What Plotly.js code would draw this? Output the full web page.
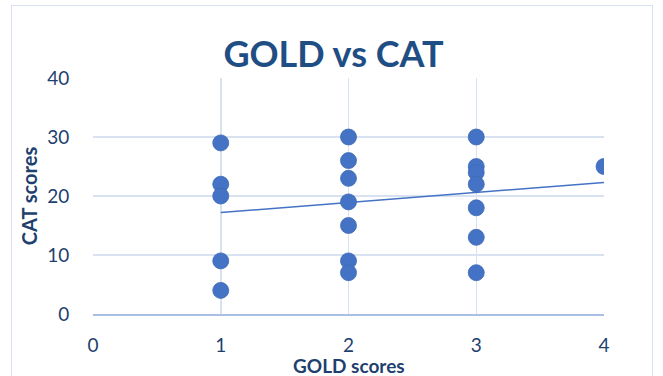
<!DOCTYPE html>
<html>
<head>
<meta charset="utf-8">
<script src="https://cdn.plot.ly/plotly-3.0.1.min.js"></script>
<style>
  html, body { margin: 0; padding: 0; background: #fff; }
  #wrap { position: relative; width: 663px; height: 376px; overflow: hidden; }
  #chart { width: 663px; height: 376px; }
  #frame { position: absolute; left: 11px; top: 5px; width: 642px; height: 400px;
           border: 1px solid #d6e0ef; box-sizing: border-box; pointer-events: none; }
</style>
</head>
<body>
<div id="wrap">
  <div id="chart"></div>
  <div id="frame"></div>
</div>
<script>
// GOLD score per respondent and the matching CAT score
const goldScores = [1, 1, 1, 1, 1,
                    2, 2, 2, 2, 2, 2, 2,
                    3, 3, 3, 3, 3, 3, 3,
                    4];
const catScores  = [29, 22, 20, 9, 4,
                    30, 26, 23, 19, 15, 9, 7,
                    30, 25, 24, 22, 18, 13, 7,
                    25];

// Linear trendline end points
const trendX = [1, 4];
const trendY = [17.2, 22.3];

const xTicks = [0, 1, 2, 3, 4];
const yTicks = [0, 10, 20, 30, 40];

const navy = '#1f3f6e';
const grid = '#d9e2f1';
const clear = 'rgba(0,0,0,0)';

const traces = [
  {
    x: trendX, y: trendY, type: 'scatter', mode: 'lines',
    line: { color: '#4472c4', width: 1.5 }, hoverinfo: 'skip', showlegend: false
  },
  {
    x: goldScores, y: catScores, type: 'scatter', mode: 'markers',
    marker: { color: '#4472c4', size: 16, line: { color: '#3d69b5', width: 0.8 } },
    showlegend: false
  }
];

const layout = {
  width: 663, height: 376,
  margin: { l: 93, r: 59, t: 78, b: 62 },
  paper_bgcolor: '#ffffff', plot_bgcolor: '#ffffff',
  font: { family: 'Lato, "Open Sans", sans-serif', color: navy },
  title: {
    text: '<b>GOLD vs CAT</b>',
    font: { size: 36, color: '#1f4e85', family: 'Lato, "Open Sans", sans-serif' },
    x: 0.503, xanchor: 'center', y: 0.856, yanchor: 'middle'
  },
  xaxis: {
    range: [0, 4], tickvals: xTicks, ticktext: xTicks.map(String),
    showgrid: true, gridcolor: grid, gridwidth: 1.5,
    zeroline: false, showline: true, linecolor: '#a9bfe3', linewidth: 2,
    ticks: 'outside', ticklen: 13, tickcolor: clear,
    tickfont: { size: 19, color: navy },
    automargin: false
  },
  yaxis: {
    range: [0, 40], tickvals: yTicks, ticktext: yTicks.map(String),
    showgrid: true, gridcolor: grid, gridwidth: 1.5,
    zeroline: false, showline: false,
    ticks: 'outside', ticklen: 19, tickcolor: clear,
    tickfont: { size: 19, color: navy },
    automargin: false,
    title: { text: '<b>CAT scores</b>', font: { size: 20, color: navy }, standoff: 4 }
  },
  annotations: [{
    text: '<b>GOLD scores</b>', showarrow: false,
    xref: 'paper', yref: 'paper', x: 0.5, y: -0.22,
    xanchor: 'center', yanchor: 'middle',
    font: { size: 19, color: navy }
  }]
};

Plotly.newPlot('chart', traces, layout, { displayModeBar: false, staticPlot: true });
</script>
</body>
</html>
